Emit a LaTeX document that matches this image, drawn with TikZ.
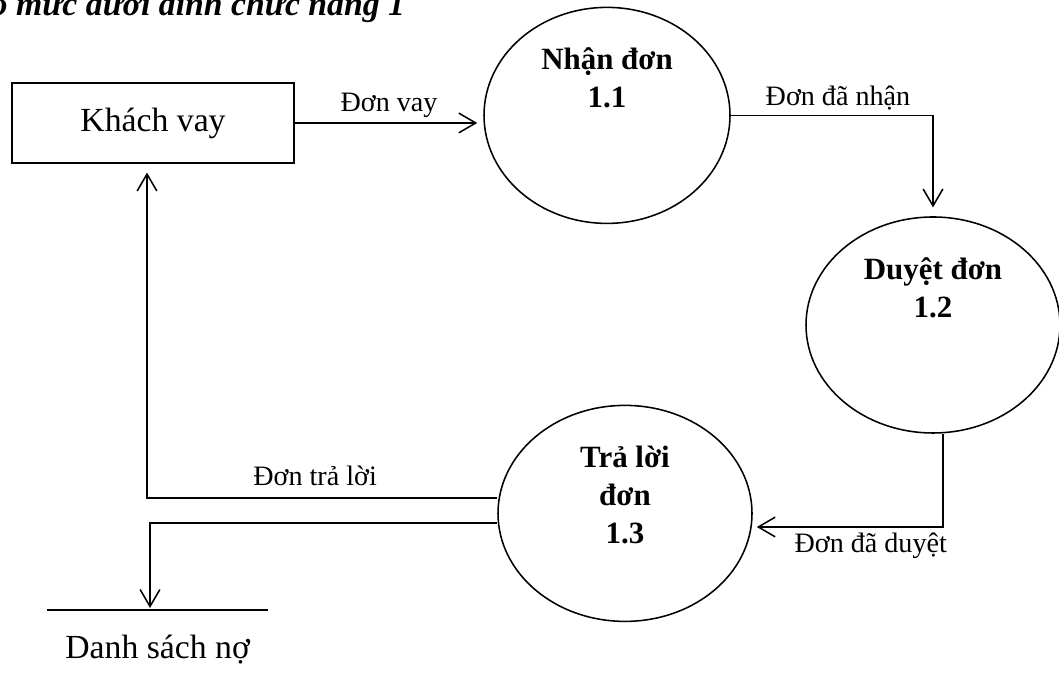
\documentclass[tikz,border=0pt]{standalone}
\usepackage{fontspec}
\setmainfont{Liberation Serif}
\usetikzlibrary{shapes.geometric,arrows.meta,positioning}

\begin{document}
\begin{tikzpicture}[
  every node/.style={font=\fontsize{20}{24}\selectfont},
  ext/.style={draw, rectangle, minimum width=7.05cm, minimum height=2cm,
              line width=1.1pt, font=\fontsize{24}{29}\selectfont},
  proc/.style={draw, ellipse, minimum width=6.35cm, minimum height=5.4cm,
               line width=1.1pt},
  proctxt/.style={align=center, inner sep=0pt,
                  font=\fontsize{22}{27}\selectfont\bfseries},
  store/.style={inner sep=0pt, minimum width=5.525cm, text height=1.2cm,
                font=\fontsize{24}{29}\selectfont},
  flow/.style={line width=1.1pt, -{Straight Barb[length=12pt,width=14pt]}}
]
\useasboundingbox (0,0) rectangle (26.475,16.925);

%% Title (cut off at the top edge)
\node[anchor=base east, font=\fontsize{24}{29}\selectfont\bfseries\itshape]
  (title) at (10.25,16.53) {Sơ đồ mức dưới đỉnh chức năng 1};

%% External entity and data store
\node[ext] (kv) at (3.825,13.85) {Khách vay};
\node[store, anchor=north] (ds) at (3.94,1.675) {Danh sách nợ};
\draw[line width=1.1pt] (ds.north west) -- (ds.north east);

%% Processes
\node[proc, minimum width=6.15cm] (p11) at (15.175,14.04) {};
\node[proc] (p12) at (23.325,8.8)  {};
\node[proc] (p13) at (15.625,4.09) {};

\node[proctxt, below=0.91cm of p11.north] (t11) {\strut Nhận đơn\\1.1};
\node[proctxt, below=0.91cm of p12.north] (t12) {\strut Duyệt đơn\\1.2};
\node[proctxt, below=0.91cm of p13.north] (t13) {\strut Trả lời\\đơn\\1.3};

%% Data flows
\draw[flow, shorten >=0.15cm] (kv.east) -- (kv.east -| p11.west)
  node[midway, above] (fl1) {Đơn vay};
\draw[flow, shorten >=0.22cm] (p11.east) -| (p12.north)
  node[pos=0.265, above] (fl2) {Đơn đã nhận};
\draw[flow, shorten >=0.1cm] ([xshift=0.25cm]p12.south) |- ([yshift=-0.34cm]p13.east)
  node[pos=0.69, below] (fl3) {Đơn đã duyệt};
\draw[flow, shorten >=0.22cm] ([yshift=0.39cm]p13.west) -| ([xshift=-0.15cm]kv.south)
  node[pos=0.26, above=5pt] (fl4) {Đơn trả lời};
\draw[flow, shorten >=0.05cm] ([yshift=-0.24cm]p13.west) -| ([xshift=-0.19cm]ds.north);

\end{tikzpicture}
\end{document}
